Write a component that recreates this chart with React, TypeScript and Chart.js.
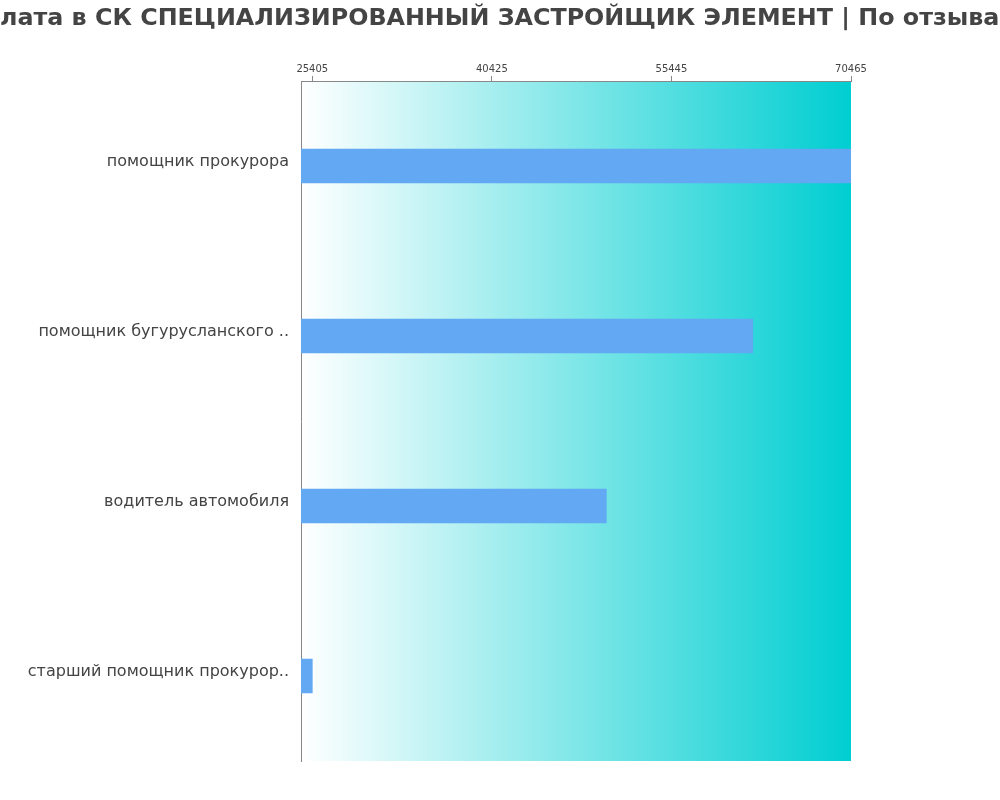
import React, { useEffect, useRef } from "react";
import { Chart, registerables } from "chart.js";

Chart.register(...registerables);

const TITLE = "Зарплата в СК СПЕЦИАЛИЗИРОВАННЫЙ ЗАСТРОЙЩИК ЭЛЕМЕНТ | По отзывам";
const categories = [
  "помощник прокурора",
  "помощник бугурусланского ..",
  "водитель автомобиля",
  "старший помощник прокурор..",
];
const salaries = [70465, 62250, 50000, 25405];
const tickValues = [25405, 40425, 55445, 70465];
const axisMin = 24460;
const axisMax = 70465;

const FONT = "'DejaVu Sans', Verdana, sans-serif";

const gradientBg = {
  id: "gradientBg",
  beforeDraw(chart: any) {
    const { ctx, chartArea } = chart;
    if (!chartArea) return;
    const g = ctx.createLinearGradient(chartArea.left, 0, chartArea.right, 0);
    g.addColorStop(0, "#ffffff");
    g.addColorStop(1, "#00ced1");
    ctx.save();
    ctx.fillStyle = g;
    ctx.fillRect(chartArea.left, chartArea.top, chartArea.right - chartArea.left, chartArea.bottom - chartArea.top);
    ctx.restore();
  },
};

const wideTitle = {
  id: "wideTitle",
  afterDraw(chart: any) {
    const { ctx } = chart;
    ctx.save();
    ctx.font = `bold 23.8px ${FONT}`;
    ctx.fillStyle = "#444444";
    ctx.textAlign = "left";
    ctx.textBaseline = "middle";
    const hidden = ctx.measureText("Зарп").width;
    ctx.fillText(TITLE, -hidden, 19);
    ctx.restore();
  },
};

export default function App() {
  const ref = useRef<HTMLCanvasElement>(null);
  useEffect(() => {
    document.body.style.margin = "0";
    const chart = new Chart(ref.current!, {
      type: "bar",
      data: {
        labels: categories,
        datasets: [
          {
            data: salaries,
            backgroundColor: "#62a8f3",
            barThickness: 34,
          },
        ],
      },
      plugins: [gradientBg, wideTitle],
      options: {
        indexAxis: "y",
        animation: false,
        responsive: false,
        maintainAspectRatio: false,
        layout: { padding: { top: 38, left: 0, right: 149, bottom: 39 } },
        plugins: {
          legend: { display: false },
          tooltip: { enabled: false },
          title: { display: false },
        },
        scales: {
          x: {
            position: "top",
            min: axisMin,
            max: axisMax,
            afterBuildTicks(scale: any) {
              scale.ticks = tickValues.map((v) => ({ value: v }));
            },
            afterFit(scale: any) {
              scale.height = 43;
            },
            grid: {
              drawOnChartArea: false,
              drawTicks: true,
              tickLength: 5,
              color: "#888888",
            },
            border: { display: true, color: "#888888" },
            ticks: {
              autoSkip: false,
              maxRotation: 0,
              padding: 1,
              color: "#444444",
              font: { family: FONT, size: 10 },
              callback: (v: any) => String(v),
            },
          },
          y: {
            afterFit(scale: any) {
              scale.width = 301;
            },
            grid: { drawOnChartArea: false, drawTicks: false },
            border: { display: true, color: "#888888" },
            ticks: {
              padding: 12,
              labelOffset: -4,
              color: "#444444",
              font: { family: FONT, size: 16 },
            },
          },
        },
      },
    });
    return () => chart.destroy();
  }, []);
  return (
    <div style={{ width: 1000, height: 800, position: "relative" }}>
      <canvas ref={ref} width={1000} height={800} style={{ width: 1000, height: 800, display: "block" }} />
    </div>
  );
}
